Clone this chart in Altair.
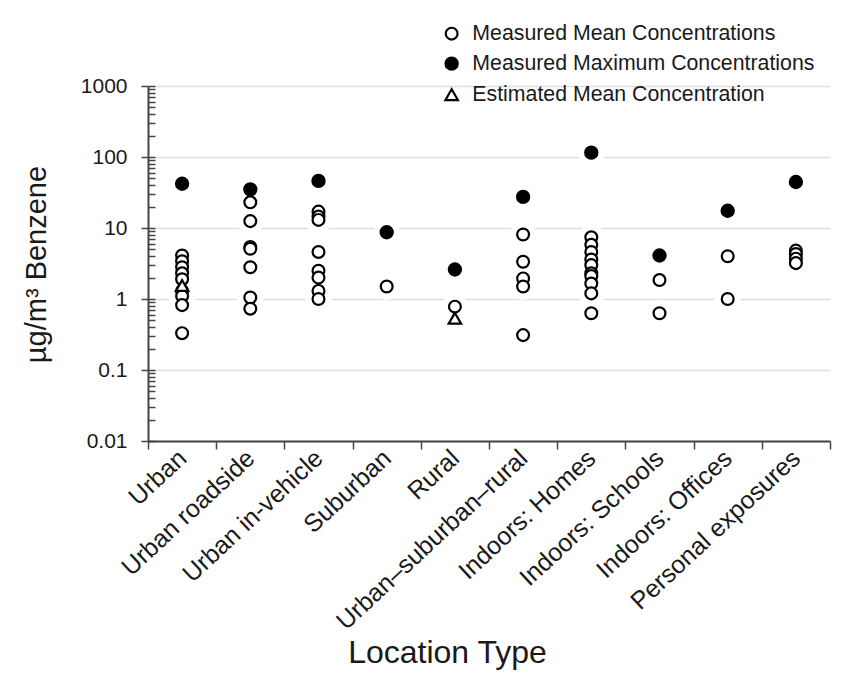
import altair as alt
import pandas as pd

categories = ["Urban", "Urban roadside", "Urban in-vehicle", "Suburban", "Rural",
              "Urban–suburban–rural", "Indoors: Homes", "Indoors: Schools",
              "Indoors: Offices", "Personal exposures"]

series_names = ["Measured Mean Concentrations", "Measured Maximum Concentrations",
                "Estimated Mean Concentration"]

# measured maximum concentrations (one per location type)
max_values = [42, 35, 46, 8.7, 2.6, 27.5, 115, 4.1, 17.5, 44.5]

# measured mean concentrations per location type
mean_urban = [4.1, 3.4, 2.8, 2.3, 1.9, 1.3, 1.1, 0.82, 0.33]
mean_roadside = [23, 12.5, 5.4, 5.1, 2.8, 1.05, 0.73]
mean_vehicle = [17, 14.5, 13, 4.6, 2.5, 2.0, 1.3, 1.0]
mean_suburban = [1.5]
mean_rural = [0.78]
mean_usr = [8.1, 3.35, 1.95, 1.5, 0.31]
mean_homes = [7.4, 5.8, 4.6, 3.6, 3.0, 2.3, 2.1, 1.65, 1.2, 0.63]
mean_schools = [1.85, 0.63]
mean_offices = [4.0, 1.0]
mean_personal = [4.8, 4.3, 3.7, 3.2]
mean_values = [mean_urban, mean_roadside, mean_vehicle, mean_suburban, mean_rural,
               mean_usr, mean_homes, mean_schools, mean_offices, mean_personal]

# estimated mean concentrations
estimated_categories = ["Urban", "Rural"]
estimated_values = [1.55, 0.535]

decades = [0.01, 0.1, 1, 10, 100, 1000]
minor_ticks = [m * 10.0 ** e for e in range(-2, 3) for m in range(2, 10)]

rows = []
for cat, vals in zip(categories, mean_values):
    for v in vals:
        rows.append({"category": cat, "value": v, "series": series_names[0]})
for cat, v in zip(categories, max_values):
    rows.append({"category": cat, "value": v, "series": series_names[1]})
for cat, v in zip(estimated_categories, estimated_values):
    rows.append({"category": cat, "value": v, "series": series_names[2]})
df = pd.DataFrame(rows)

FONT = "Liberation Sans"
W, H = 682, 355

x_axis = alt.Axis(title="Location Type", titleFontSize=32, titleFontWeight="normal",
                  titleColor="#1a1a1a", titleX=299, titleY=221, titleBaseline="alphabetic",
                  titleAlign="center",
                  labelAngle=-43, labelAlign="right", labelBaseline="middle",
                  labelFontSize=25, labelColor="#1a1a1a", labelPadding=5, labelLimit=0,
                  tickBand="extent", tickSize=8, tickColor="#444", tickWidth=1.5,
                  domainColor="#444", domainWidth=2, grid=False)

x_enc = alt.X("category:N", sort=categories,
              scale=alt.Scale(paddingInner=0, paddingOuter=0), axis=x_axis)

y_scale = alt.Scale(type="log", domain=[0.01, 1000])

# white halo layer (breaks the grid around markers) carrying the inner minor-tick axis
halo = alt.Chart(df).mark_point(filled=True, size=700, color="white", opacity=1).encode(
    x=x_enc,
    y=alt.Y("value:Q", scale=y_scale,
            axis=alt.Axis(orient="right", offset=-W, values=decades + minor_ticks,
                          labels=False, domain=False, grid=False, title=None,
                          tickSize=7, tickColor="#444", tickWidth=1.5)),
)

points = alt.Chart(df).mark_point(filled=True, stroke="black", strokeWidth=2.2, opacity=1).encode(
    x=x_enc,
    y=alt.Y("value:Q", scale=y_scale,
            axis=alt.Axis(values=decades, format="~g", title="µg/m³  Benzene",
                          titleFontSize=29, titleFontWeight="normal", titleColor="#1a1a1a",
                          titleX=-103, titleY=178, titleBaseline="alphabetic",
                          titleAlign="center", titleAngle=-90,
                          labelFontSize=21, labelColor="#1a1a1a", labelPadding=14,
                          tickSize=7, tickColor="#444", tickWidth=1.5,
                          domainColor="#444", domainWidth=2,
                          grid=True, gridColor="#dedede", gridWidth=1.5)),
    fill=alt.Fill("series:N", sort=series_names,
                  scale=alt.Scale(domain=series_names, range=["white", "black", "white"]),
                  legend=alt.Legend(title=None, orient="none", legendX=293, legendY=-63,
                                    labelFontSize=21.3, labelColor="#1a1a1a", labelOffset=10,
                                    labelLimit=0, rowPadding=8, padding=0,
                                    symbolStrokeColor="black", symbolStrokeWidth=2.2)),
    shape=alt.Shape("series:N", sort=series_names,
                    scale=alt.Scale(domain=series_names,
                                    range=["circle", "circle", "triangle-up"])),
    size=alt.Size("series:N", sort=series_names,
                  scale=alt.Scale(domain=series_names, range=[140, 155, 190])),
)

chart = alt.layer(halo, points).resolve_axis(y="independent").properties(
    width=W, height=H,
    autosize=alt.AutoSizeParams(type="none"),
    padding={"left": 140, "top": 78, "right": 4, "bottom": 229},
).configure(font=FONT).configure_view(stroke=None)

chart.save("out.html", embed_options={"renderer": "svg", "actions": False})
